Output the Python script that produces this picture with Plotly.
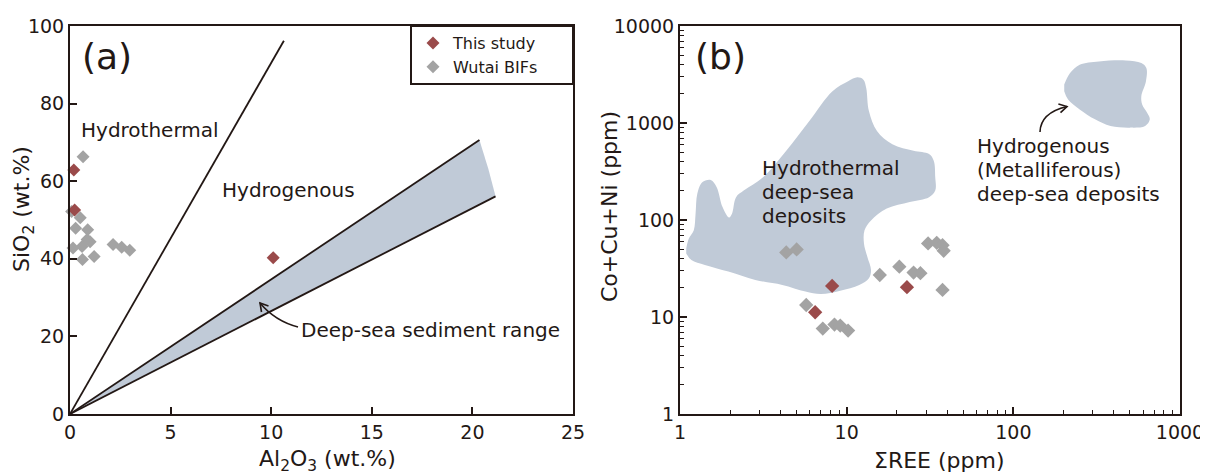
import plotly.graph_objects as go

# page renders figure with an 8px body offset; work in window pixels
OFF = 8
W, H = 1200, 468
INK = "#231815"
FILL = "#c0cad7"
RED = "#9a4a4a"
GRAY = "#a3a3a3"
FONT = "DejaVu Sans"

# ---------------- Panel (a): SiO2 vs Al2O3 ----------------
a_this_al = [0.19, 0.23, 10.1]
a_this_si = [62.9, 52.6, 40.3]
a_wutai_al = [0.65, 0.08, 0.51, 0.28, 0.88, 0.85, 1.00, 0.60, 0.15, 0.62, 1.20, 2.14, 2.57, 2.97]
a_wutai_si = [66.3, 52.2, 50.6, 47.9, 47.5, 45.0, 44.4, 43.2, 42.8, 39.8, 40.6, 43.7, 43.0, 42.2]

hydro_line_al = [0, 10.63]
hydro_line_si = [0, 96.2]
band_upper_al = [0, 20.35]
band_upper_si = [0, 70.6]
band_lower_al = [0, 21.15]
band_lower_si = [0, 56.1]
band_poly_al = [0, 20.35, 20.8, 21.15, 0]
band_poly_si = [0, 70.6, 63.0, 56.1, 0]

a_xticks = [0, 5, 10, 15, 20, 25]
a_yticks = [0, 20, 40, 60, 80, 100]

# ---------------- Panel (b): Co+Cu+Ni vs REE ----------------
b_this_ree = [8.18, 6.47, 23.0]
b_this_ccn = [20.9, 11.2, 20.3]
b_wutai_ree = [4.34, 5.01, 5.72, 7.19, 8.45, 9.15, 10.2, 15.8, 20.7, 25.2, 27.7, 30.8, 34.7, 37.6, 38.2, 37.6]
b_wutai_ccn = [46.3, 49.7, 13.3, 7.6, 8.35, 8.15, 7.25, 27.1, 33.0, 28.7, 28.3, 57.3, 58.2, 55.0, 48.2, 19.0]

hydrothermal_field_ree = [1.09, 1.13, 1.21, 1.24, 1.27, 1.36, 1.53, 1.66, 1.80, 1.97, 2.05, 2.17, 2.41,
                          3.15, 4.34, 5.97, 8.22, 10.2, 11.6, 12.6, 13.1, 13.6, 15.2, 18.8, 25.2, 31.2,
                          33.3, 34.0, 34.0, 31.2, 23.9, 17.4, 14.0, 12.8, 12.7, 13.3, 14.0, 13.6, 11.9,
                          9.15, 7.0, 5.66, 4.11, 2.83, 1.95, 1.41, 1.17, 1.09]
hydrothermal_field_ccn = [50.9, 64.4, 78.4, 116, 186, 245, 259, 218, 136, 106, 116, 172, 201,
                          276, 517, 1048, 2128, 2692, 2958, 2800, 2300, 1327, 828, 605, 517, 478,
                          408, 276, 201, 172, 153, 131, 99, 78.4, 57.3, 41.8, 30.5, 25.1, 21.4,
                          18.7, 17.3, 18.3, 21.4, 24.1, 29.4, 34.4, 38.6, 45.2]

hydrogenous_field_ree = [202, 219, 250, 326, 473, 586, 628, 625, 586, 593, 635, 659, 618, 500, 383,
                         309, 250, 213, 202]
hydrogenous_field_ccn = [2489, 3275, 3990, 4315, 4420, 4150, 3690, 2692, 1890, 1553, 1276, 1091, 932,
                         896, 932, 1091, 1380, 1746, 2128]

b_xticks = [1, 10, 100, 1000]
b_xticktext = ["1", "10", "100", "1000"]
b_yticks = [1, 10, 100, 1000, 10000]
b_yticktext = ["1", "10", "100", "1000", "10000"]


def px(x):
    return (x - OFF) / W


def py(y):
    return 1 - (y - OFF) / H


fig = go.Figure()

# panel (a) band fill and lines
fig.add_trace(go.Scatter(x=band_poly_al, y=band_poly_si, fill="toself", fillcolor=FILL,
                         mode="lines", line=dict(width=0), hoverinfo="skip", showlegend=False,
                         xaxis="x", yaxis="y"))
for xs, ys in [(hydro_line_al, hydro_line_si), (band_upper_al, band_upper_si),
               (band_lower_al, band_lower_si)]:
    fig.add_trace(go.Scatter(x=xs, y=ys, mode="lines", line=dict(color=INK, width=1.8),
                             hoverinfo="skip", showlegend=False, xaxis="x", yaxis="y"))

fig.add_trace(go.Scatter(x=a_wutai_al, y=a_wutai_si, mode="markers", name="Wutai BIFs",
                         marker=dict(symbol="diamond", size=10, color=GRAY), cliponaxis=False,
                         legendrank=2, xaxis="x", yaxis="y"))
fig.add_trace(go.Scatter(x=a_this_al, y=a_this_si, mode="markers", name="This study",
                         marker=dict(symbol="diamond", size=10, color=RED), cliponaxis=False,
                         legendrank=1, xaxis="x", yaxis="y"))

# panel (b)
fig.add_trace(go.Scatter(x=hydrothermal_field_ree, y=hydrothermal_field_ccn, fill="toself",
                         fillcolor=FILL, mode="lines", line=dict(width=0, shape="spline"),
                         hoverinfo="skip", showlegend=False, xaxis="x2", yaxis="y2"))
fig.add_trace(go.Scatter(x=hydrogenous_field_ree, y=hydrogenous_field_ccn, fill="toself",
                         fillcolor=FILL, mode="lines", line=dict(width=0, shape="spline"),
                         hoverinfo="skip", showlegend=False, xaxis="x2", yaxis="y2"))
fig.add_trace(go.Scatter(x=b_wutai_ree, y=b_wutai_ccn, mode="markers", showlegend=False,
                         marker=dict(symbol="diamond", size=11, color=GRAY), cliponaxis=False,
                         xaxis="x2", yaxis="y2"))
fig.add_trace(go.Scatter(x=b_this_ree, y=b_this_ccn, mode="markers", showlegend=False,
                         marker=dict(symbol="diamond", size=11, color=RED), cliponaxis=False,
                         xaxis="x2", yaxis="y2"))

axis_common = dict(showline=True, linecolor=INK, linewidth=2, mirror=True, ticks="inside",
                   tickcolor=INK, tickwidth=1.5, ticklen=7, showgrid=False, zeroline=False,
                   automargin=False,
                   tickfont=dict(family=FONT, size=19, color=INK))

ydom = [py(414), py(26)]
fig.update_layout(
    width=W, height=H,
    margin=dict(l=0, r=0, t=0, b=0, pad=0, autoexpand=False),
    paper_bgcolor="white", plot_bgcolor="white",
    font=dict(family=FONT, color=INK),
    xaxis=dict(domain=[px(70), px(573)], range=[0, 25], tickvals=a_xticks, anchor="y", **axis_common),
    yaxis=dict(domain=ydom, range=[0, 100], tickvals=a_yticks, anchor="x", **axis_common),
    xaxis2=dict(domain=[px(680), px(1180)], type="log", range=[0, 3], tickvals=b_xticks,
                ticktext=b_xticktext, anchor="y2",
                minor=dict(ticks="inside", ticklen=4, tickwidth=1, tickcolor=INK, dtick="D1"),
                **axis_common),
    yaxis2=dict(domain=ydom, type="log", range=[0, 4], tickvals=b_yticks, ticktext=b_yticktext,
                anchor="x2",
                minor=dict(ticks="inside", ticklen=4, tickwidth=1, tickcolor=INK, dtick="D1"),
                **axis_common),
    legend=dict(x=px(413), xanchor="left", y=py(26), yanchor="top", bgcolor="rgba(0,0,0,0)",
                borderwidth=0, font=dict(family=FONT, size=16, color=INK),
                itemwidth=30, traceorder="normal"),
)


def ann(text, x, y, size=20, xanchor="left", yanchor="middle", angle=0):
    fig.add_annotation(text=text, x=px(x), y=py(y), xref="paper", yref="paper", showarrow=False,
                       xanchor=xanchor, yanchor=yanchor, textangle=angle,
                       font=dict(family=FONT, size=size, color=INK))


# panel labels and region texts
ann("(a)", 80, 57, size=36)
ann("(b)", 693, 57, size=36)
ann("Hydrothermal", 79, 130)
ann("Hydrogenous", 220, 190)
ann("Deep-sea sediment range", 299, 330)
ann("Hydrothermal", 760, 168)
ann("deep-sea", 760, 192)
ann("deposits", 760, 216)
ann("Hydrogenous", 975, 146)
ann("(Metalliferous)", 975, 170)
ann("deep-sea deposits", 975, 194)

# axis titles
ann("SiO<sub>2</sub> (wt.%)", 23, 209, size=22, xanchor="center", angle=-90)
ann("Al<sub>2</sub>O<sub>3</sub> (wt.%)", 327, 460, size=22, xanchor="center")
ann("Co+Cu+Ni (ppm)", 609, 207, size=22, xanchor="center", angle=-90)
ann("ΣREE (ppm)", 939, 460, size=22, xanchor="center")


def path(points, curve=False):
    s = "M {:.5f} {:.5f}".format(px(points[0][0]), py(points[0][1]))
    if curve:
        s += " Q {:.5f} {:.5f} {:.5f} {:.5f}".format(px(points[1][0]), py(points[1][1]),
                                                    px(points[2][0]), py(points[2][1]))
    else:
        for p in points[1:]:
            s += " L {:.5f} {:.5f}".format(px(p[0]), py(p[1]))
    return s


arrow_line = dict(color=INK, width=1.6)
shapes = [
    # legend frame
    dict(type="rect", xref="paper", yref="paper", x0=px(411), x1=px(573), y0=py(84), y1=py(26),
         line=dict(color=INK, width=2), fillcolor="white", layer="above"),
    dict(type="path", xref="paper", yref="paper", path=path([(298, 327), (275, 321), (260, 303)], True),
         line=arrow_line),
    dict(type="path", xref="paper", yref="paper", path=path([(261.5, 312), (260, 303), (268.5, 306)]),
         line=arrow_line),
    dict(type="path", xref="paper", yref="paper", path=path([(1040, 132), (1040.5, 112.8), (1067, 106.5)], True),
         line=arrow_line),
    dict(type="path", xref="paper", yref="paper", path=path([(1058.4, 103.9), (1067, 106.5), (1060.5, 112.7)]),
         line=arrow_line),
]
fig.update_layout(shapes=shapes)

fig.write_html("out.html")
